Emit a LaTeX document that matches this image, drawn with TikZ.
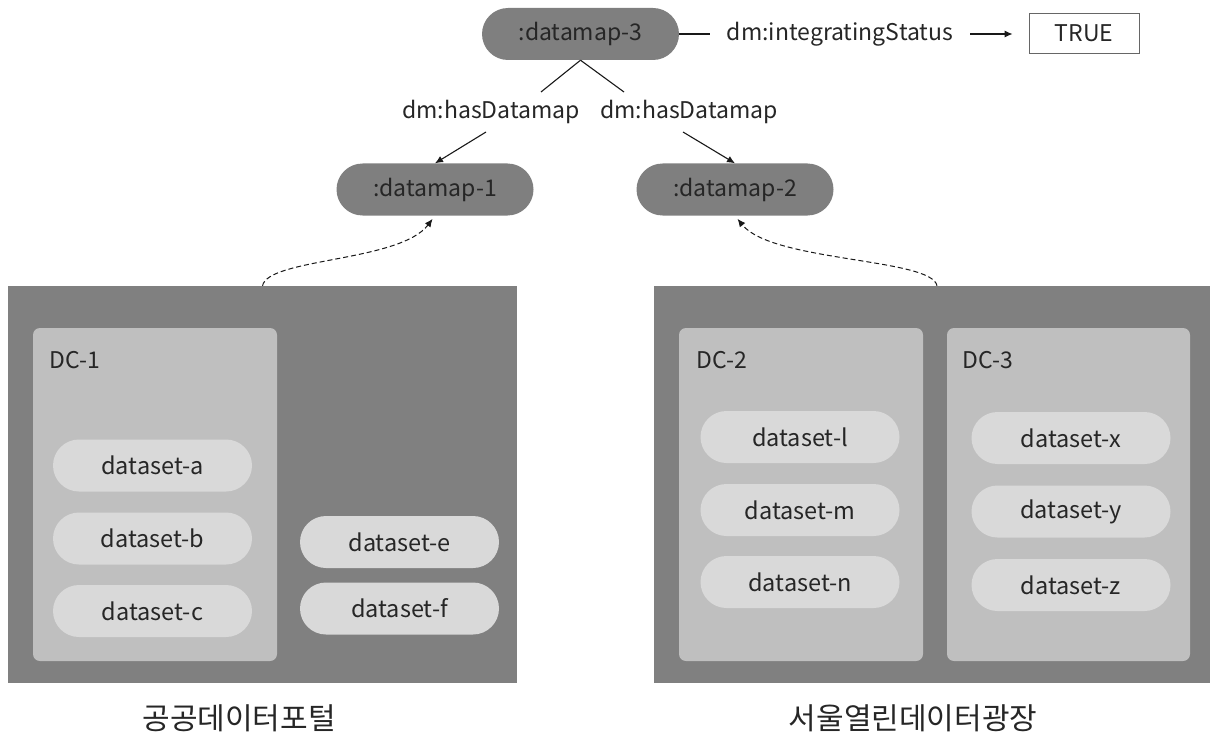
\documentclass[tikz,border=0pt]{standalone}
\usepackage{fontspec}
\setmainfont{Noto Sans CJK KR}
\usetikzlibrary{arrows.meta}
\definecolor{boxgray}{HTML}{808080}
\definecolor{dcgray}{HTML}{BFBFBF}
\definecolor{pillgray}{HTML}{D9D9D9}
\definecolor{mapgray}{HTML}{7F7F7F}
\definecolor{txt}{HTML}{262626}
\begin{document}
\begin{tikzpicture}[x=1pt,y=-1pt,
  font=\fontsize{23}{28}\selectfont, text=txt,
  mappill/.style={fill=mapgray, rounded corners=26pt, minimum width=197pt, minimum height=52pt, inner sep=0pt},
  dspill/.style={fill=pillgray, rounded corners=26pt, minimum width=199pt, minimum height=52pt, inner sep=0pt, font=\fontsize{23.5}{28}\selectfont},
  bigbox/.style={fill=boxgray, minimum height=397pt, inner sep=0pt},
  dcbox/.style={fill=dcgray, rounded corners=7pt, minimum width=244pt, minimum height=333pt, inner sep=0pt},
  conn/.style={draw=black!90, line width=1.1pt},
  arr/.style={-{Latex[length=8pt,width=7pt]}},
  dashconn/.style={draw=black!90, line width=1pt, dash pattern=on 5pt off 3pt},
  klabel/.style={font=\fontsize{30}{36}\selectfont}
]
\useasboundingbox (0,0) rectangle (1216,741);

% big containers
\node[bigbox, minimum width=509pt] (L) at (262.5,484.5) {};
\node[bigbox, minimum width=556pt] (R) at (932,484.5) {};

% data catalogs
\node[dcbox] (dc1) at (155,494.5) {};
\node[dcbox] (dc2) at (801,494.5) {};
\node[dcbox, minimum width=243pt] (dc3) at (1068.5,494.5) {};
\node[anchor=west, inner sep=0pt] (dc1l) at (49,360) {DC-1};
\node[anchor=west, inner sep=0pt] (dc2l) at (696,360) {DC-2};
\node[anchor=west, inner sep=0pt] (dc3l) at (962,360) {DC-3};

% datasets
\node[dspill] (dsa) at (152.5,465.5) {dataset-a};
\node[dspill] (dsb) at (152.5,538.5) {dataset-b};
\node[dspill] (dsc) at (152.5,611) {dataset-c};
\node[dspill] (dse) at (399.5,542) {dataset-e};
\node[dspill] (dsf) at (399.5,608.5) {dataset-f};
\node[dspill] (dsl) at (800,437) {dataset-l};
\node[dspill] (dsm) at (800,510) {dataset-m};
\node[dspill] (dsn) at (800,582) {dataset-n};
\node[dspill] (dsx) at (1071,438) {dataset-x};
\node[dspill] (dsy) at (1071,511.5) {dataset-y};
\node[dspill] (dsz) at (1071,585) {dataset-z};

% portal labels
\node[klabel] (lk) at (239,718) {공공데이터포털};
\node[klabel] (rk) at (913,718) {서울열린데이터광장};

% datamaps
\node[mappill] (d3) at (580.5,34) {:datamap-3};
\node[mappill] (d1) at (435,189.5) {:datamap-1};
\node[mappill] (d2) at (735,189.5) {:datamap-2};

% labels
\node (hl) at (491,112) {dm:hasDatamap};
\node (hr) at (689,112) {dm:hasDatamap};
\node[inner xsep=17pt] (st) at (840,34) {dm:integratingStatus};
\node[draw=black!60, line width=0.8pt, minimum width=110pt, minimum height=40pt, inner sep=0pt] (tv) at (1084,33) {TRUE};

% connectors
\coordinate (hl1) at (541,92);
\coordinate (hl2) at (486,132);
\coordinate (hr1) at (624,92);
\coordinate (hr2) at (683,132);
\draw[conn] (d3.south) -- (hl1);
\draw[conn, arr] (hl2) -- (d1.north);
\draw[conn] (d3.south) -- (hr1);
\draw[conn, arr] (hr2) -- (d2.north);
\draw[conn] (d3.east) -- (st.west);
\draw[conn, arr] (st.east) -- ([xshift=-16pt]tv.west |- st.east);

\draw[dashconn, arr, shorten >=4pt] (L.north) .. controls (268,258) and (400,262) .. (d1.south);
\draw[dashconn, arr, shorten >=4pt] ([xshift=5pt]R.north) .. controls (932,258) and (772,262) .. (d2.south);
\end{tikzpicture}
\end{document}
